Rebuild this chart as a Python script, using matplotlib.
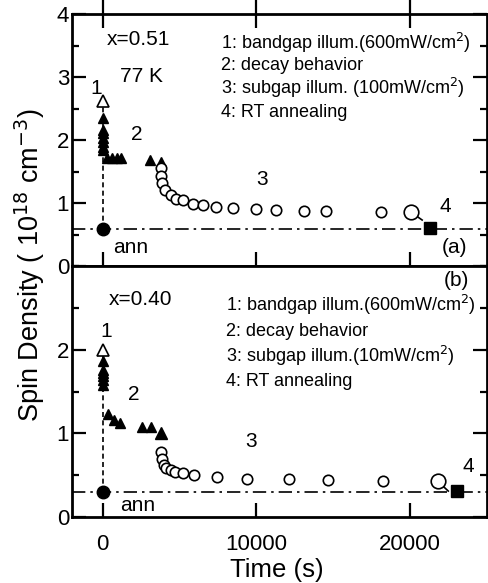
import matplotlib
matplotlib.use("Agg")
import matplotlib.pyplot as plt
from matplotlib.ticker import MultipleLocator

plt.rcParams.update({'font.family': ['Liberation Sans', 'DejaVu Sans'], 'font.size': 15})

# ---- panel (a): x=0.51 ----
a_ann = (0, 0.58)
a_open_tri = (0, 2.62)
a_tri_x = [0, 0, 0, 0, 0, 0, 0, 300, 600, 900, 1200, 3100, 3760]
a_tri_y = [2.35, 2.16, 2.11, 2.03, 1.97, 1.89, 1.84, 1.72, 1.72, 1.71, 1.71, 1.68, 1.65]
a_circ_x = [3760, 3800, 3865, 4040, 4410, 4780, 5210, 5880, 6510, 7340, 8490, 9990,
            11250, 13100, 14500, 18130]
a_circ_y = [1.55, 1.43, 1.31, 1.21, 1.12, 1.06, 1.04, 0.99, 0.97, 0.94, 0.92, 0.91,
            0.89, 0.87, 0.87, 0.85]
a_big_circ = (20080, 0.85)
a_square = (21280, 0.61)

# ---- panel (b): x=0.40 ----
b_ann = (0, 0.30)
b_open_tri = (0, 2.0)
b_tri_x = [0, 0, 0, 0, 0, 0, 320, 720, 1150, 2560, 3170]
b_tri_y = [1.86, 1.76, 1.72, 1.68, 1.64, 1.58, 1.23, 1.16, 1.12, 1.08, 1.07]
b_big_tri = (3820, 1.0)
b_circ_x = [3820, 3860, 3970, 4120, 4410, 4690, 5210, 5930, 7410, 9360, 12120, 14640, 18240]
b_circ_y = [0.78, 0.69, 0.62, 0.58, 0.56, 0.54, 0.52, 0.50, 0.48, 0.46, 0.45, 0.44, 0.43]
b_big_circ = (21780, 0.43)
b_square = (23020, 0.31)

legend_a = ['1: bandgap illum.(600mW/cm$^2$)', '2: decay behavior',
            '3: subgap illum. (100mW/cm$^2$)', '4: RT annealing']
legend_b = ['1: bandgap illum.(600mW/cm$^2$)', '2: decay behavior',
            '3: subgap illum.(10mW/cm$^2$)', '4: RT annealing']

fig = plt.figure(figsize=(4.88, 5.83), dpi=100)
L, R = 72 / 488, 487 / 488
ax1 = fig.add_axes([L, 1 - 266 / 583, R - L, (266 - 14) / 583])
ax2 = fig.add_axes([L, 1 - 517 / 583, R - L, (517 - 266) / 583])


def draw(ax, ann, otri, tx, ty, cx, cy, bigc, sq, bigtri=None):
    ax.axhline(ann[1], color='k', lw=1.2, ls=(0, (8, 3, 1.5, 3)))
    ax.plot([0, 0], [ann[1], otri[1]], color='k', lw=1.2, ls=(0, (3, 2)))
    ax.plot(*ann, 'o', color='k', ms=9)
    ax.plot(*otri, '^', mfc='white', mec='k', ms=8.5, mew=1.2)
    ax.plot(tx, ty, '^', color='k', ms=7, ls='none')
    if bigtri is not None:
        ax.plot(*bigtri, '^', color='k', ms=9)
    ax.plot(cx, cy, 'o', mfc='white', mec='k', ms=7.5, mew=1.2, ls='none')
    ax.plot([bigc[0], bigc[0] + 700], [bigc[1], bigc[1] - 0.12], color='k', lw=1.2)
    ax.plot(*bigc, 'o', mfc='white', mec='k', ms=10.5, mew=1.2)
    ax.plot(*sq, 's', color='k', ms=8)
    ax.set_xlim(-2000, 25000)
    ax.xaxis.set_major_locator(MultipleLocator(10000))
    ax.yaxis.set_major_locator(MultipleLocator(1))
    ax.yaxis.set_minor_locator(MultipleLocator(0.5))
    ax.tick_params(which='both', direction='in', top=True, right=True, width=1.6)
    ax.tick_params(which='major', length=10, pad=2, labelsize=16)
    ax.tick_params(which='minor', length=5)
    for s in ax.spines.values():
        s.set_linewidth(2)


draw(ax1, a_ann, a_open_tri, a_tri_x, a_tri_y, a_circ_x, a_circ_y, a_big_circ, a_square)
ax1.set_ylim(0, 4)
ax1.tick_params(axis='x', which='both', bottom=True, labelbottom=False)
ax1.tick_params(axis='x', which='major', direction='inout', length=20)
ax1.text(2350, 3.59, 'x=0.51', ha='center', va='center', fontsize=15)
ax1.text(2500, 3.0, '77 K', ha='center', va='center', fontsize=15)
for t, yy in zip(legend_a, [3.54, 3.19, 2.83, 2.44]):
    ax1.text(7700, yy, t, ha='left', va='center', fontsize=13)
ax1.text(-400, 2.82, '1', ha='center', va='center', fontsize=15)
ax1.text(2200, 2.08, '2', ha='center', va='center', fontsize=15)
ax1.text(10360, 1.37, '3', ha='center', va='center', fontsize=15)
ax1.text(22300, 0.94, '4', ha='center', va='center', fontsize=15)
ax1.text(700, 0.29, 'ann', ha='left', va='center', fontsize=15)
ax1.text(22900, 0.3, '(a)', ha='center', va='center', fontsize=15)

draw(ax2, b_ann, b_open_tri, b_tri_x, b_tri_y, b_circ_x, b_circ_y, b_big_circ, b_square,
     bigtri=b_big_tri)
ax2.set_ylim(0, 3)
ax2.set_yticks([0, 1, 2])
ax2.tick_params(axis='x', which='both', top=False)
ax2.text(2450, 2.6, 'x=0.40', ha='center', va='center', fontsize=15)
for t, yy in zip(legend_b, [2.54, 2.22, 1.92, 1.62]):
    ax2.text(8000, yy, t, ha='left', va='center', fontsize=13)
ax2.text(240, 2.22, '1', ha='center', va='center', fontsize=15)
ax2.text(2020, 1.46, '2', ha='center', va='center', fontsize=15)
ax2.text(9620, 0.90, '3', ha='center', va='center', fontsize=15)
ax2.text(23800, 0.6, '4', ha='center', va='center', fontsize=15)
ax2.text(1100, 0.14, 'ann', ha='left', va='center', fontsize=15)
ax2.text(22980, 2.83, '(b)', ha='center', va='center', fontsize=15)
ax2.tick_params(axis='x', pad=12)

fig.text(30 / 488, 1 - 265 / 583, 'Spin Density ( 10$^{18}$ cm$^{-3}$)', rotation=90,
         ha='center', va='center', fontsize=19.5)
fig.text(277 / 488, 1 - 570 / 583, 'Time (s)', ha='center', va='center', fontsize=18.5)

fig.savefig('out.png', dpi=100)
